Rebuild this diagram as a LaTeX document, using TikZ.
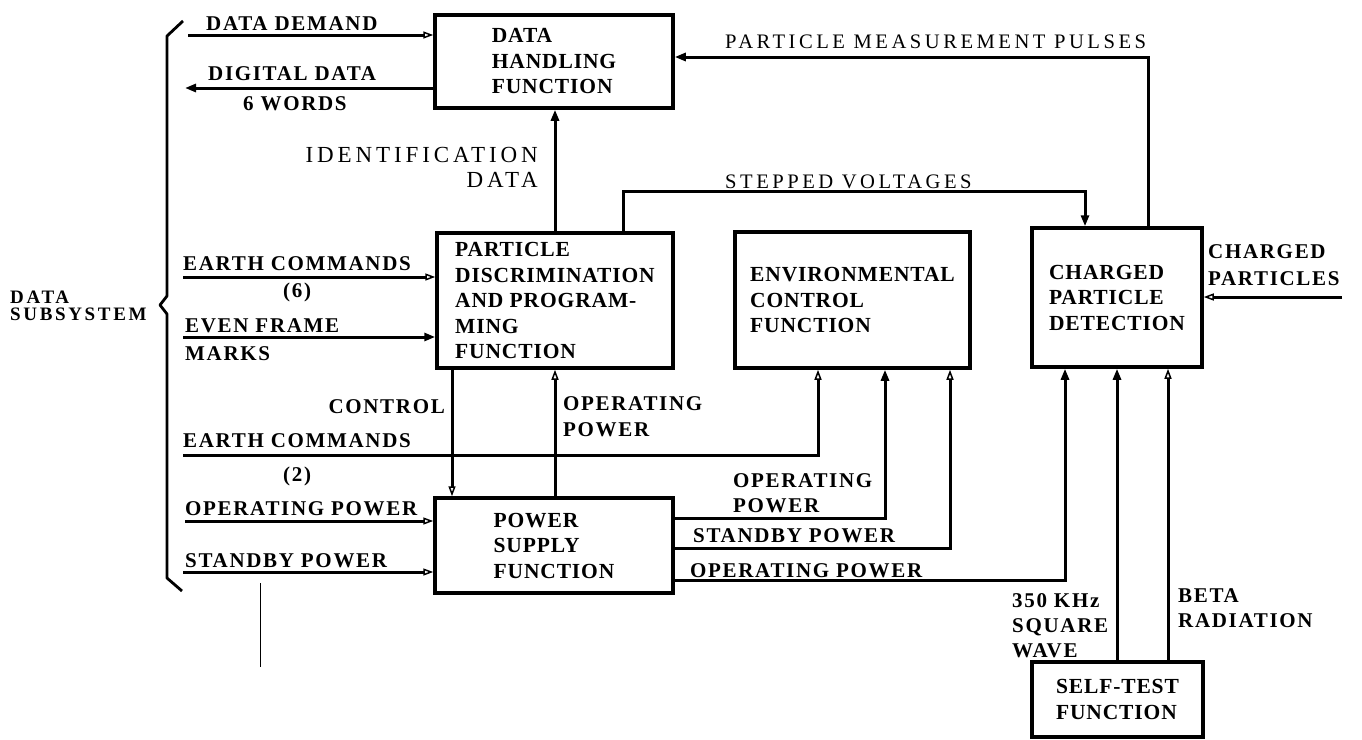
\documentclass[tikz,border=0pt]{standalone}
\usepackage{fontspec}
\setmainfont{Liberation Serif}
\newfontfamily\labf[LetterSpace=8]{Liberation Serif}
\newfontfamily\labwf[LetterSpace=17]{Liberation Serif}
\newfontfamily\labsf[LetterSpace=14]{Liberation Serif}
\newfontfamily\boxf[LetterSpace=4]{Liberation Serif}
\usetikzlibrary{arrows.meta}
\tikzset{
  blk/.style={draw, line width=3.5pt, align=left, inner sep=0pt,
    font=\boxf\bfseries\fontsize{21.5}{25.5}\selectfont},
  lab/.style={font=\labf\bfseries\fontsize{21}{25}\selectfont, inner sep=0pt, anchor=base west},
  labr/.style={lab, anchor=base east},
  labw/.style={font=\labwf\fontsize{20.6}{25}\selectfont, inner sep=0pt, anchor=base west},
  labi/.style={font=\labwf\fontsize{23}{25}\selectfont, inner sep=0pt, anchor=base east},
  labs/.style={font=\labsf\bfseries\fontsize{19}{20}\selectfont, inner sep=0pt, anchor=base west},
  ln/.style={line width=3pt},
  arf/.style={ln, -{Triangle[length=11pt,width=8pt]}},
  aro/.style={ln, -{Triangle[open,length=10pt,width=7pt,line width=1.5pt]}},
}
\begin{document}
\begin{tikzpicture}[x=1pt,y=-1pt]
\useasboundingbox (0,0) rectangle (1362,739);
\fill[white] (0,0) rectangle (1362,739);

% boxes
\node[blk, minimum width=238pt, minimum height=93pt] (DH) at (554,61.5) {DATA\\HANDLING\\FUNCTION};
\node[blk, minimum width=236pt, minimum height=135pt] (PDP) at (555,300.5) {PARTICLE\\DISCRIMINATION\\AND PROGRAM-\\MING\\FUNCTION};
\node[blk, minimum width=235pt, minimum height=136pt] (ECF) at (852.5,300) {ENVIRONMENTAL\\CONTROL\\FUNCTION};
\node[blk, minimum width=170pt, minimum height=139pt] (CPD) at (1117,297.5) {CHARGED\\PARTICLE\\DETECTION};
\node[blk, minimum width=238pt, minimum height=95pt] (PSF) at (554,545.5) {POWER\\SUPPLY\\FUNCTION};
\node[blk, minimum width=171pt, minimum height=75pt] (ST) at (1117.5,699.5) {SELF-TEST\\FUNCTION};

% free ends
\coordinate (dd) at (188,35);
\coordinate (dig) at (185,88);
\coordinate (ec6) at (183,277);
\coordinate (efm) at (183,337);
\coordinate (ec2) at (183,455);
\coordinate (opin) at (185,521);
\coordinate (sbin) at (183,572);
\coordinate (cp) at (1342,297);
\coordinate (sA) at (260,583);
\coordinate (sB) at (260,667);

% brace
\draw[line width=2.8pt, line join=round] (183,21) -- (167,36) -- (167,296) -- (160,305) -- (167,314) -- (167,578) -- (182,591);
\node[labs] (ds1) at (10,303) {DATA};
\node[labs] (ds2) at (10,320) {SUBSYSTEM};

% stray mark
\draw[line width=0.8pt] (sA) -- (sB);

% connectors to DH
\draw[aro] (dd) -- (DH.west |- dd);
\draw[arf] (DH.west |- dig) -- (dig);
\draw[arf] (PDP.north) -- (PDP.north |- DH.south);
\draw[arf] ([xshift=31pt]CPD.north) |- ([yshift=4.5pt]DH.east);
\draw[arf] ([xshift=68pt]PDP.north) -- ++(0,-40) -| ([xshift=-32pt]CPD.north);
\draw[aro] (cp) -- (CPD.east |- cp);

% inputs to PDP
\draw[aro] (ec6) -- (PDP.west |- ec6);
\draw[arf] (efm) -- (PDP.west |- efm);

% PDP <-> PSF
\draw[aro] ([xshift=-103pt]PDP.south) -- ([xshift=-102pt]PSF.north);
\draw[aro] ([xshift=1pt]PSF.north) -- (PDP.south);

% earth commands (2)
\draw[aro] (ec2) -| ([xshift=-34.5pt]ECF.south);

% PSF inputs
\draw[aro] (opin) -- (PSF.west |- opin);
\draw[aro] (sbin) -- (PSF.west |- sbin);

% PSF outputs
\draw[arf] ([yshift=27.5pt]PSF.east) -| ([xshift=32.5pt]ECF.south);
\draw[aro] ([yshift=-2.5pt]PSF.east) -| ([xshift=97.5pt]ECF.south);
\draw[arf] ([yshift=-34.5pt]PSF.east) -| ([xshift=-52pt]CPD.south);

% self test
\draw[arf] (ST.north -| CPD.south) -- (CPD.south);
\draw[aro] ([xshift=50.5pt]ST.north) -- ([xshift=51pt]CPD.south);

% labels
\node[lab] (l1) at (206,30) {DATA DEMAND};
\node[lab] (l2) at (208,80) {DIGITAL DATA};
\node[lab] (l3) at (243,110) {6 WORDS};
\node[labi] (l4) at (538,162) {IDENTIFICATION};
\node[labi] (l5) at (538,187) {DATA};
\node[labw] (l6) at (725,48) {PARTICLE MEASUREMENT PULSES};
\node[labw] (l7) at (725,188) {STEPPED VOLTAGES};
\node[lab] (l8) at (183,270) {EARTH COMMANDS};
\node[lab] (l9) at (283,297) {(6)};
\node[lab] (l10) at (185,332) {EVEN FRAME};
\node[lab] (l11) at (185,360) {MARKS};
\node[labr] (l12) at (445,413) {CONTROL};
\node[lab] (l13) at (563,410) {OPERATING};
\node[lab] (l14) at (563,436) {POWER};
\node[lab] (l15) at (183,447) {EARTH COMMANDS};
\node[lab] (l16) at (283,481) {(2)};
\node[lab] (l17) at (185,515) {OPERATING POWER};
\node[lab] (l18) at (185,567) {STANDBY POWER};
\node[lab] (l19) at (733,487) {OPERATING};
\node[lab] (l20) at (733,512) {POWER};
\node[lab] (l21) at (693,542) {STANDBY POWER};
\node[lab] (l22) at (690,577) {OPERATING POWER};
\node[lab] (l23) at (1012,607) {350 KHz};
\node[lab] (l24) at (1012,632) {SQUARE};
\node[lab] (l25) at (1012,657) {WAVE};
\node[lab] (l26) at (1178,602) {BETA};
\node[lab] (l27) at (1178,627) {RADIATION};
\node[lab] (l28) at (1208,258) {CHARGED};
\node[lab] (l29) at (1208,285) {PARTICLES};
\end{tikzpicture}
\end{document}
